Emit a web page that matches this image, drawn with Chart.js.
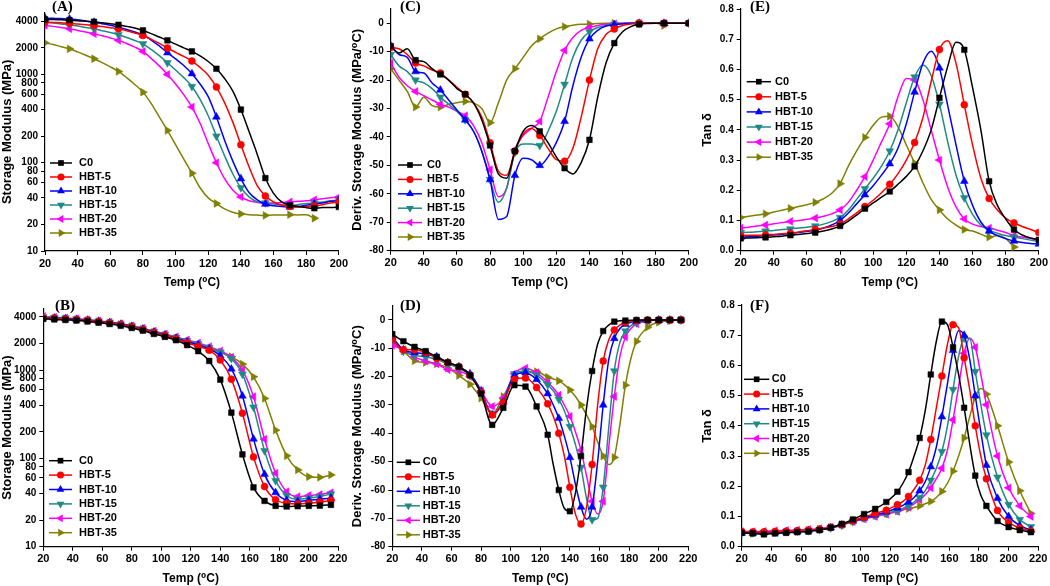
<!DOCTYPE html>
<html>
<head>
<meta charset="utf-8">
<script src="https://cdn.jsdelivr.net/npm/chart.js@4.4.1/dist/chart.umd.min.js"></script>
<style>
  html,body{margin:0;padding:0;background:#fff;}
  body{width:1050px;height:586px;position:relative;overflow:hidden;}
  .pane{position:absolute;}
  .plab{position:absolute;font:bold 15px "Liberation Serif","Times New Roman",serif;line-height:15px;color:#000;}
</style>
</head>
<body>
<div class="pane" style="left:0;top:0"><canvas id="cA" width="350" height="290"></canvas></div>
<div class="pane" style="left:350px;top:0"><canvas id="cC" width="350" height="290"></canvas></div>
<div class="pane" style="left:700px;top:0"><canvas id="cE" width="350" height="290"></canvas></div>
<div class="pane" style="left:0;top:290px"><canvas id="cB" width="350" height="296"></canvas></div>
<div class="pane" style="left:350px;top:290px"><canvas id="cD" width="350" height="296"></canvas></div>
<div class="pane" style="left:700px;top:290px"><canvas id="cF" width="350" height="296"></canvas></div>
<div class="plab" style="left:52px;top:-1px">(A)</div>
<div class="plab" style="left:400px;top:-1px">(C)</div>
<div class="plab" style="left:750px;top:-1px">(E)</div>
<div class="plab" style="left:55px;top:298px">(B)</div>
<div class="plab" style="left:400px;top:298px">(D)</div>
<div class="plab" style="left:750px;top:298px">(F)</div>
<script>
// ---------------- DATA ----------------
const SERIES = ['C0','HBT-5','HBT-10','HBT-15','HBT-20','HBT-35'];

// Panel A : storage modulus (MPa), step 5 °C
const A_T   = [20,25,30,35,40,45,50,55,60,65,70,75,80,85,90,95,100,105,110,115,120,125,130,135,140,145,150,155,160,165,170,175,180,185,190,195,200];
const A_C0  = [4200,4180,4150,4120,4050,4000,3950,3850,3750,3650,3500,3350,3150,2900,2650,2430,2200,2000,1820,1620,1400,1160,900,650,400,225,125,67,45,36,33,32,31,30.5,31,31,31.5];
const A_H5  = [3900,3870,3840,3800,3720,3650,3580,3480,3380,3280,3120,2950,2760,2500,2250,1990,1780,1600,1415,1200,980,720,480,290,160,90,55,42,36,33,32,31.5,32,32.5,33.5,35,36];
const A_H10 = [4350,4320,4290,4250,4150,4020,3900,3750,3600,3430,3230,3020,2800,2450,2100,1760,1500,1260,1020,780,560,330,180,105,66,46,38,34,32.5,32,31.5,32,33,34,35,36.5,37.5];
const A_H15 = [3900,3820,3730,3650,3530,3400,3290,3130,2980,2810,2620,2420,2220,1920,1630,1355,1120,920,730,520,340,200,120,75,52,41,36,35,34,33.5,33,33.5,34.5,35,36,37,38];
const A_H20 = [3600,3500,3390,3290,3150,3020,2890,2740,2590,2430,2240,2040,1820,1520,1250,1000,780,590,427,280,165,100,66,49,41,37,35.5,35,35,35.5,36,36.5,37,38,39,40,41];
const A_H35 = [2280,2180,2060,1950,1800,1650,1505,1360,1220,1080,920,770,630,470,330,232,160,110,76,52,40,34.5,30,27.5,26.3,25.8,25.5,25.3,25.5,25.5,25.8,25.6,25.8,23.5,null,null,null];

// Panel C : derivative of storage modulus (MPa/°C), step 5 °C
const C_T   = A_T;
const C_C0  = [-8,-10.5,-9,-13,-13.5,-16,-18,-20,-23,-25,-28,-34,-43,-53,-54.5,-45,-38,-36,-38,-42,-47,-51,-53,-49,-41,-26,-14,-7,-3,-1.2,-0.4,-0.1,0,0,0,0,0];
const C_H5  = [-8.5,-9,-11,-14,-15,-16.5,-17.5,-20,-22.5,-25,-28,-33,-42,-52,-53.5,-45,-39,-37,-39.5,-44,-48,-48.5,-44,-33,-20,-9,-4,-2,-0.8,-0.3,0,0,0,0,0,0,0];
const C_H10 = [-8,-11,-12,-17,-17.5,-21,-23.5,-27,-30.5,-34,-38,-45,-55,-69,-68,-53.5,-47.5,-48,-50,-47,-42,-34.5,-22,-12,-5.5,-2.5,-1,-0.5,-0.2,0,0,0,0,0,0,0,0];
const C_H15 = [-11,-15,-17,-20,-21,-23,-26,-28.5,-31,-34,-38,-45,-55,-63,-58,-45.5,-42.5,-42.5,-43,-38,-31,-21.5,-12,-6,-3,-1.5,-0.8,-0.4,-0.2,0,0,0,0,0,0,0,0];
const C_H20 = [-14,-19,-22,-24,-25.5,-27,-28.5,-29.5,-31,-32.5,-36,-42,-51.5,-61,-58,-44.5,-39.5,-37,-34.5,-26,-17,-9.5,-5,-2.5,-1.5,-0.8,-0.4,-0.2,0,0,0,0,0,0,0,0,0];
const C_H35 = [-16,-20,-24,-29.5,-26,-29,-29.5,-28.5,-28,-27.5,-28,-30,-35,-28,-20,-16,-12,-8,-5.5,-3.5,-2,-1.2,-0.7,-0.4,-0.3,-0.1,0,0,0,0,0,0,0,-0.8,null,null,null];

// Panel E : tan delta, step 5 °C
const E_T   = A_T;
const E_C0  = [0.041,0.042,0.043,0.044,0.046,0.048,0.051,0.054,0.057,0.060,0.065,0.072,0.082,0.098,0.118,0.139,0.158,0.177,0.196,0.220,0.246,0.279,0.33,0.40,0.506,0.61,0.69,0.665,0.54,0.40,0.23,0.15,0.105,0.07,0.052,0.042,0.036];
const E_H5  = [0.05,0.051,0.051,0.052,0.054,0.056,0.058,0.062,0.066,0.07,0.075,0.08,0.088,0.105,0.125,0.146,0.167,0.192,0.22,0.255,0.30,0.358,0.44,0.56,0.666,0.695,0.62,0.483,0.35,0.24,0.173,0.135,0.108,0.092,0.08,0.07,0.06];
const E_H10 = [0.045,0.046,0.048,0.05,0.052,0.054,0.057,0.06,0.064,0.068,0.075,0.085,0.10,0.125,0.155,0.185,0.215,0.25,0.288,0.34,0.42,0.525,0.62,0.66,0.605,0.48,0.35,0.23,0.15,0.095,0.065,0.05,0.04,0.032,0.027,0.024,0.022];
const E_H15 = [0.06,0.061,0.063,0.065,0.067,0.07,0.072,0.075,0.078,0.082,0.088,0.097,0.11,0.135,0.17,0.205,0.24,0.28,0.33,0.40,0.49,0.575,0.615,0.58,0.485,0.36,0.25,0.175,0.12,0.085,0.068,0.058,0.05,0.045,0.04,0.035,0.03];
const E_H20 = [0.075,0.078,0.082,0.085,0.089,0.093,0.097,0.10,0.104,0.108,0.114,0.122,0.135,0.16,0.20,0.245,0.30,0.36,0.42,0.51,0.57,0.565,0.50,0.40,0.30,0.21,0.145,0.105,0.088,0.08,0.075,0.068,0.06,0.05,0.045,0.04,0.035];
const E_H35 = [0.11,0.114,0.118,0.122,0.128,0.134,0.14,0.146,0.152,0.16,0.172,0.19,0.222,0.28,0.33,0.375,0.415,0.442,0.445,0.41,0.35,0.29,0.225,0.17,0.135,0.105,0.085,0.07,0.065,0.055,0.045,0.05,0.04,0.012,null,null,null];

// Panel B : storage modulus (MPa), step 7.5 °C
const B_T   = [20,27.5,35,42.5,50,57.5,65,72.5,80,87.5,95,102.5,110,117.5,125,132.5,140,147.5,155,162.5,170,177.5,185,192.5,200,207.5,215];
const B_C0  = [3800,3750,3700,3650,3560,3450,3330,3180,3000,2800,2570,2380,2180,1920,1640,1270,780,330,111,47,33,29,28.5,28.7,29,29.2,29.8];
const B_H5  = [3900,3850,3790,3720,3640,3540,3420,3270,3090,2880,2660,2460,2260,2040,1850,1680,1300,790,325,104,48,34,31,30.5,31,32,33.5];
const B_H10 = [3950,3890,3830,3760,3680,3580,3460,3310,3130,2920,2700,2500,2300,2100,1930,1740,1450,1030,510,166,66,41,33.5,32.5,33.5,34.5,35.5];
const B_H15 = [4000,3950,3880,3800,3710,3600,3480,3330,3160,2960,2740,2540,2340,2150,1980,1800,1600,1350,900,380,122,56,38,34.5,35.5,37,39.5];
const B_H20 = [4050,3980,3900,3820,3730,3620,3500,3350,3180,2980,2770,2570,2380,2200,2030,1850,1650,1400,1000,500,165,68,42,37,38,39,41];
const B_H35 = [3950,3890,3820,3740,3650,3550,3430,3290,3120,2900,2680,2480,2290,2100,1920,1750,1600,1420,1170,840,478,209,107,74,62,61,65];

// Panel D : derivative of storage modulus (MPa/°C)
const D_T   = [20,27.5,35,42.5,50,57.5,65,72.5,80,87.5,95,102.5,110,117.5,125,128.75,132.5,136.25,140,143.75,147.5,151.25,155,158.75,162.5,166.25,170,173.75,177.5,181.25,185,192.5,200,207.5,215];
const D_C0  = [-5,-7.5,-9.5,-11,-13,-15,-16.5,-19.5,-26,-37,-31,-23,-23.5,-30.5,-40.5,-51,-60,-66.5,-67.5,-61,-48,-31,-18,-8.5,-3.9,-1.8,-0.6,-0.3,-0.2,-0.1,0,0,0,0,0];
const D_H5  = [-7,-10.5,-10.5,-11.5,-13.5,-15,-16.5,-19.5,-25.5,-33.5,-29,-21,-20.5,-23.8,-29.6,-34,-40,-48,-59,-68.5,-72,-66,-51,-30,-14.5,-7,-3.5,-1.8,-0.8,-0.4,-0.2,0,0,0,0];
const D_H10 = [-6,-10.5,-11.5,-12,-13,-15,-16.5,-19,-25,-33.5,-29,-19.5,-18.6,-21,-26,-30,-34.7,-41,-48.5,-58,-66,-70.3,-66,-50,-30,-14,-6.5,-3,-1.5,-0.8,-0.5,-0.2,0,0,0];
const D_H15 = [-7,-11,-12.5,-13,-14,-15.5,-17,-19.5,-25.5,-33,-28.5,-19,-18,-19.5,-22.9,-25,-28,-32,-37.6,-44,-52,-63,-70.5,-70,-59,-38,-18,-8,-3.9,-2,-1,-0.3,0,0,0];
const D_H20 = [-9,-10.5,-13,-14.5,-15.5,-17.5,-18,-20,-25,-30.5,-27.5,-19,-17,-18.6,-22,-24,-26.5,-30,-34,-39.5,-46,-55,-64,-68.5,-64,-45,-27,-13,-6,-3,-1.4,-0.4,0,0,0];
const D_H35 = [-8,-11,-14.4,-15,-15.5,-17,-19.6,-22.7,-27.6,-33.2,-27,-20.2,-18.2,-18.2,-20.2,-20.8,-21.5,-22.8,-24.7,-27,-30,-33.5,-37.6,-43,-48,-51,-48.5,-37,-23,-13.5,-7.6,-2.6,-0.8,-0.3,0];

// Panel F : tan delta
const F_T   = D_T;
const F_C0  = [0.046,0.044,0.041,0.044,0.046,0.048,0.05,0.055,0.063,0.075,0.09,0.108,0.125,0.148,0.182,0.21,0.247,0.3,0.36,0.45,0.57,0.68,0.745,0.735,0.66,0.57,0.46,0.34,0.235,0.17,0.135,0.085,0.065,0.055,0.048];
const F_H5  = [0.05,0.049,0.049,0.05,0.051,0.053,0.055,0.058,0.064,0.073,0.086,0.098,0.11,0.121,0.139,0.15,0.166,0.19,0.22,0.27,0.355,0.46,0.565,0.67,0.735,0.725,0.625,0.52,0.4,0.3,0.225,0.12,0.08,0.062,0.052];
const F_H10 = [0.045,0.045,0.046,0.047,0.049,0.05,0.053,0.056,0.063,0.072,0.085,0.095,0.105,0.115,0.128,0.137,0.148,0.163,0.185,0.215,0.265,0.33,0.43,0.54,0.65,0.715,0.7,0.62,0.5,0.38,0.27,0.16,0.1,0.07,0.055];
const F_H15 = [0.045,0.046,0.047,0.048,0.05,0.051,0.053,0.056,0.062,0.071,0.083,0.094,0.103,0.11,0.12,0.127,0.135,0.148,0.163,0.185,0.22,0.26,0.315,0.4,0.52,0.63,0.69,0.69,0.58,0.47,0.37,0.23,0.14,0.09,0.066];
const F_H20 = [0.05,0.05,0.051,0.053,0.054,0.055,0.057,0.06,0.065,0.073,0.083,0.092,0.1,0.107,0.116,0.122,0.13,0.142,0.155,0.172,0.195,0.225,0.26,0.32,0.42,0.53,0.64,0.69,0.66,0.57,0.47,0.3,0.195,0.135,0.1];
const F_H35 = [0.045,0.044,0.045,0.047,0.049,0.051,0.054,0.058,0.064,0.073,0.084,0.094,0.103,0.11,0.118,0.122,0.126,0.13,0.135,0.142,0.15,0.163,0.183,0.21,0.25,0.3,0.36,0.43,0.495,0.524,0.505,0.4,0.28,0.185,0.11];

// Tick labels
const X_TICKS_200 = [20,40,60,80,100,120,140,160,180,200];
const X_TICKS_220 = [20,40,60,80,100,120,140,160,180,200,220];
const LOG_TICKS   = [10,20,40,60,80,100,200,400,600,800,1000,2000,4000];
const DERIV_TICKS = [-80,-70,-60,-50,-40,-30,-20,-10,0];
const TAN_TICKS   = [0,0.1,0.2,0.3,0.4,0.5,0.6,0.7,0.8];

// ---------------- STYLE ----------------
const COLORS = ['#000000','#ff0000','#0000ff','#1f8a84','#ff00ff','#808000'];
const PSTYLE = ['rect','circle','triangle','triangle','triangle','triangle'];
const PROT   = [0,0,0,180,270,90];
const PRAD   = [4,3.5,4.5,4.5,4.5,4.5];
const FONT = '"Liberation Sans", Arial, "DejaVu Sans", sans-serif';
const X_TITLE = 'Temp (\u2070C)';

const innerLegend = {
  id: 'innerLegend',
  afterDatasetsDraw(chart, args, o) {
    const ctx = chart.ctx;
    chart.data.datasets.forEach((ds, i) => {
      const y = o.y0 + i * o.dy;
      ctx.save();
      ctx.strokeStyle = ds.borderColor;
      ctx.lineWidth = 1.5;
      ctx.beginPath(); ctx.moveTo(o.x0, y); ctx.lineTo(o.x1, y); ctx.stroke();
      ctx.fillStyle = ds.borderColor;
      Chart.helpers.drawPoint(ctx, {pointStyle: ds.pointStyle, rotation: ds.pointRotation, radius: ds.mk, borderWidth: 0}, (o.x0 + o.x1) / 2, y);
      ctx.fillStyle = '#000';
      ctx.font = 'bold 11px ' + FONT;
      ctx.textBaseline = 'middle';
      ctx.textAlign = 'left';
      ctx.fillText(ds.label, o.tx, y);
      ctx.restore();
    });
  }
};

function isMarker(t, step) {
  if (t === undefined || t === null) return false;
  const k = (t - 20) / step;
  return Math.abs(k - Math.round(k)) < 1e-6;
}

function panel(id, temps, vals, o) {
  const datasets = vals.map((v, i) => ({
    label: SERIES[i],
    data: temps.map((t, j) => ({x: t, y: v[j]})),
    borderColor: COLORS[i],
    backgroundColor: COLORS[i],
    borderWidth: 1.5,
    pointStyle: PSTYLE[i],
    pointRotation: PROT[i],
    pointBackgroundColor: COLORS[i],
    pointBorderColor: COLORS[i],
    pointBorderWidth: 0.5,
    mk: PRAD[i],
    pointRadius: (c) => isMarker(c.raw && c.raw.x, o.step) ? PRAD[i] : 0,
    pointHoverRadius: 0,
    cubicInterpolationMode: 'monotone',
    tension: 0.4,
    spanGaps: false
  }));
  const tickFontY = {family: FONT, size: 10, weight: 'bold'};
  const tickFontX = {family: FONT, size: 11, weight: 'bold'};
  new Chart(document.getElementById(id), {
    type: 'line',
    data: {datasets},
    plugins: [innerLegend],
    options: {
      responsive: false, animation: false, devicePixelRatio: 1,
      events: [],
      layout: {padding: {left: 0, top: o.padTop, right: o.padRight, bottom: 0}},
      plugins: {legend: {display: false}, tooltip: {enabled: false}, innerLegend: o.legend},
      scales: {
        x: {
          type: 'linear', min: 20, max: o.xMax,
          afterBuildTicks: (ax) => { ax.ticks = o.xTicks.map(v => ({value: v})); },
          afterFit: (ax) => { ax.height = o.xH; },
          ticks: {autoSkip: false, maxRotation: 0, padding: 2, color: '#000', font: tickFontX, callback: (v) => String(v)},
          grid: {drawOnChartArea: false, drawTicks: true, tickLength: 4, color: '#000', lineWidth: 1},
          border: {display: true, color: '#000', width: 1.2},
          title: {display: true, text: X_TITLE, color: '#000', padding: 0, font: {family: FONT, size: 12, weight: 'bold'}}
        },
        y: {
          type: o.yType, min: o.yMin, max: o.yMax,
          afterBuildTicks: (ax) => { ax.ticks = o.yTicks.map(v => ({value: v})); },
          afterFit: (ax) => { ax.width = o.yW; },
          ticks: {autoSkip: false, padding: 3, color: '#000', font: tickFontY, callback: o.yFmt},
          grid: {drawOnChartArea: false, drawTicks: true, tickLength: 4, color: '#000', lineWidth: 1},
          border: {display: true, color: '#000', width: 1.2},
          title: {display: true, text: o.yTitle, color: '#000', padding: 0, font: {family: FONT, size: 13, weight: 'bold'}}
        }
      }
    }
  });
}

const fmtInt = (v) => String(v);
const fmt1 = (v) => Number(v).toFixed(1);

panel('cA', A_T, [A_C0, A_H5, A_H10, A_H15, A_H20, A_H35], {
  step: 15, xMax: 200, xTicks: X_TICKS_200, yType: 'logarithmic', yMin: 10, yMax: 5000, yTicks: LOG_TICKS, yFmt: fmtInt,
  yTitle: 'Storage Modulus (MPa)', padTop: 12.7, padRight: 10, yW: 45, xH: 39,
  legend: {x0: 50, x1: 72, tx: 79, y0: 163, dy: 14}
});
panel('cC', C_T, [C_C0, C_H5, C_H10, C_H15, C_H20, C_H35], {
  step: 15, xMax: 200, xTicks: X_TICKS_200, yType: 'linear', yMin: -80, yMax: 5, yTicks: DERIV_TICKS, yFmt: fmtInt,
  yTitle: 'Deriv. Storage Modulus (MPa/\u2070C)', padTop: 8.5, padRight: 10, yW: 40.7, xH: 39.3,
  legend: {x0: 48, x1: 72, tx: 77, y0: 165, dy: 14.4}
});
panel('cE', E_T, [E_C0, E_H5, E_H10, E_H15, E_H20, E_H35], {
  step: 15, xMax: 200, xTicks: X_TICKS_200, yType: 'linear', yMin: 0, yMax: 0.8, yTicks: TAN_TICKS, yFmt: fmt1,
  yTitle: 'Tan \u03b4', padTop: 7.3, padRight: 9.3, yW: 40.7, xH: 39.3,
  legend: {x0: 46.7, x1: 71, tx: 75, y0: 81.7, dy: 15.1}
});
panel('cB', B_T, [B_C0, B_H5, B_H10, B_H15, B_H20, B_H35], {
  step: 7.5, xMax: 220, xTicks: X_TICKS_220, yType: 'logarithmic', yMin: 10, yMax: 5000, yTicks: LOG_TICKS, yFmt: fmtInt,
  yTitle: 'Storage Modulus (MPa)', padTop: 18.4, padRight: 11.7, yW: 43.3, xH: 39.3,
  legend: {x0: 49, x1: 72, tx: 79, y0: 170.7, dy: 14.4}
});
panel('cD', D_T, [D_C0, D_H5, D_H10, D_H15, D_H20, D_H35], {
  step: 7.5, xMax: 220, xTicks: X_TICKS_220, yType: 'linear', yMin: -80, yMax: 5, yTicks: DERIV_TICKS, yFmt: fmtInt,
  yTitle: 'Deriv. Storage Modulus (MPa/\u2070C)', padTop: 15.8, padRight: 11.7, yW: 42.3, xH: 39.3,
  legend: {x0: 46.7, x1: 70, tx: 72.7, y0: 172.3, dy: 14.5}
});
panel('cF', F_T, [F_C0, F_H5, F_H10, F_H15, F_H20, F_H35], {
  step: 7.5, xMax: 220, xTicks: X_TICKS_220, yType: 'linear', yMin: 0, yMax: 0.8, yTicks: TAN_TICKS, yFmt: fmt1,
  yTitle: 'Tan \u03b4', padTop: 15, padRight: 11.7, yW: 41.7, xH: 39.3,
  legend: {x0: 44, x1: 69.3, tx: 71.7, y0: 89.3, dy: 14.8}
});
</script>
</body>
</html>
